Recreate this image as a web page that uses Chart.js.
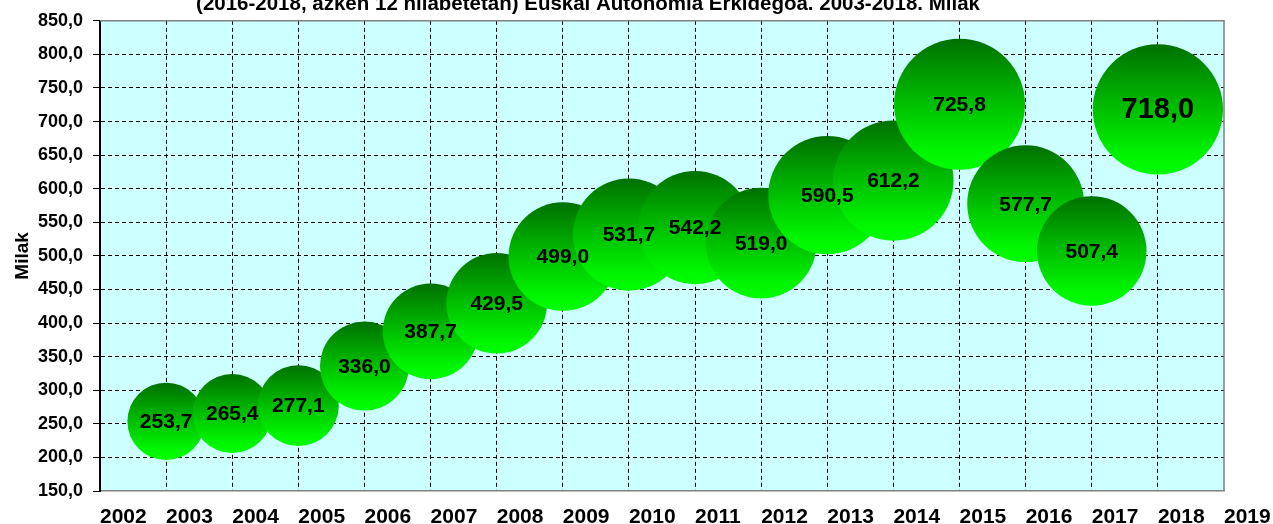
<!DOCTYPE html>
<html>
<head>
<meta charset="utf-8">
<script src="https://cdn.jsdelivr.net/npm/chart.js@4.4.0/dist/chart.umd.min.js"></script>
<style>
  html, body { margin: 0; padding: 0; background: #fff; }
  #wrap { width: 1273px; height: 524px; position: relative; overflow: hidden; }
</style>
</head>
<body>
<div id="wrap"><canvas id="chart" width="1273" height="524"></canvas></div>
<script>
// Data
const titleText = '(2016-2018, azken 12 hilabetetan) Euskal Autonomia Erkidegoa. 2003-2018. Milak';
const yAxisTitle = 'Milak';
const years = [2003, 2004, 2005, 2006, 2007, 2008, 2009, 2010, 2011, 2012, 2013, 2014, 2015, 2016, 2017, 2018];
const values = [253.7, 265.4, 277.1, 336.0, 387.7, 429.5, 499.0, 531.7, 542.2, 519.0, 590.5, 612.2, 725.8, 577.7, 507.4, 718.0];
const xRange = [2002, 2019];
const yRange = [150, 850];
const yStep = 50;

// bubble area follows the value (Excel style)
const bubbleScale = 2.43;
const radiusFor = v => bubbleScale * Math.sqrt(v);
const fmt = v => v.toFixed(1).replace('.', ',');

const points = years.map((yr, i) => ({ x: yr, y: values[i] }));

/**
 * Plot background, frame and the (cut off) title
 */
const framePlugin = {
    id: 'frame',
    beforeDraw(chart) {
        const { ctx, chartArea: a } = chart;
        ctx.save();
        ctx.fillStyle = '#ffffff';
        ctx.fillRect(0, 0, chart.width, chart.height);
        ctx.fillStyle = '#ccffff';
        ctx.fillRect(a.left, a.top, a.right - a.left, a.bottom - a.top);
        ctx.restore();
    },
    beforeDatasetsDraw(chart) {
        const { ctx, chartArea: a } = chart;
        ctx.save();
        ctx.strokeStyle = '#808080';
        ctx.lineWidth = 1.5;
        ctx.beginPath();
        ctx.moveTo(a.left, a.top);
        ctx.lineTo(a.right, a.top);
        ctx.lineTo(a.right, a.bottom);
        ctx.stroke();
        ctx.restore();
    },
    afterDraw(chart) {
        const { ctx } = chart;
        ctx.save();
        ctx.font = 'bold 20.5px "Liberation Sans", Arial, sans-serif';
        ctx.fillStyle = '#000';
        ctx.textAlign = 'center';
        ctx.textBaseline = 'alphabetic';
        ctx.fillText(titleText, 588, 10);
        ctx.restore();
    }
};

/**
 * Value labels drawn on top of all bubbles
 */
const labelPlugin = {
    id: 'bubbleLabels',
    afterDatasetsDraw(chart) {
        const { ctx } = chart;
        const meta = chart.getDatasetMeta(0);
        ctx.save();
        ctx.fillStyle = '#000';
        ctx.textAlign = 'center';
        ctx.textBaseline = 'middle';
        meta.data.forEach((el, i) => {
            const size = i === values.length - 1 ? 29 : 21;
            ctx.font = `bold ${size}px "Liberation Sans", Arial, sans-serif`;
            ctx.fillText(fmt(values[i]), el.x, el.y + 1);
        });
        ctx.restore();
    }
};

function bubbleFill(context) {
    const chart = context.chart;
    const raw = context.raw;
    const yScale = chart.scales && chart.scales.y;
    if (!raw || !yScale) return '#00c000';
    const cy = yScale.getPixelForValue(raw.y);
    const r = radiusFor(raw.y);
    if (!isFinite(cy) || !isFinite(r)) return '#00c000';
    const g = chart.ctx.createLinearGradient(0, cy - r, 0, cy + r);
    g.addColorStop(0, '#007000');
    g.addColorStop(0.45, '#00b800');
    g.addColorStop(0.85, '#00f400');
    g.addColorStop(1, '#00ff00');
    return g;
}

new Chart(document.getElementById('chart'), {
    type: 'bubble',
    data: {
        datasets: [{
            data: points,
            backgroundColor: bubbleFill,
            borderWidth: 0,
            radius: ctx => (ctx.raw ? radiusFor(ctx.raw.y) : 3),
            hoverRadius: 0
        }]
    },
    options: {
        responsive: false,
        animation: false,
        devicePixelRatio: 1,
        layout: { autoPadding: false, padding: { top: 20, right: 49, left: 0, bottom: 0 } },
        plugins: {
            legend: { display: false },
            tooltip: { enabled: false },
            title: { display: false }
        },
        scales: {
            x: {
                type: 'linear',
                min: xRange[0],
                max: xRange[1],
                afterFit: scale => {
                    scale.height = 33;
                    // let the layout padding decide the right edge
                    scale.paddingRight = 0;
                    scale.paddingLeft = 0;
                },
                ticks: {
                    stepSize: 1,
                    align: 'start',
                    padding: 14,
                    color: '#000',
                    font: { family: '"Liberation Sans", Arial, sans-serif', size: 21, weight: 'bold' },
                    callback: v => String(v)
                },
                grid: {
                    drawTicks: false,
                    color: ctx => (ctx.tick && (ctx.tick.value === xRange[0] || ctx.tick.value === xRange[1])) ? 'rgba(0,0,0,0)' : '#000',
                    lineWidth: 1
                },
                border: { display: true, color: '#808080', width: 1.5, dash: [4, 3] }
            },
            y: {
                type: 'linear',
                min: yRange[0],
                max: yRange[1],
                afterFit: scale => { scale.width = 100; },
                ticks: {
                    stepSize: yStep,
                    padding: 10,
                    color: '#000',
                    font: { family: '"Liberation Sans", Arial, sans-serif', size: 18, weight: 'bold' },
                    callback: v => fmt(v)
                },
                grid: {
                    drawTicks: true,
                    tickLength: 7,
                    tickColor: '#000',
                    tickWidth: 1,
                    color: ctx => (ctx.tick && (ctx.tick.value === yRange[0] || ctx.tick.value === yRange[1])) ? 'rgba(0,0,0,0)' : '#000',
                    lineWidth: 1
                },
                border: { display: true, color: '#000', width: 2, dash: [4, 3] },
                title: {
                    display: true,
                    text: yAxisTitle,
                    color: '#000',
                    padding: { top: 11, bottom: 0 },
                    font: { family: '"Liberation Sans", Arial, sans-serif', size: 19, weight: 'bold' }
                }
            }
        }
    },
    plugins: [framePlugin, labelPlugin]
});
</script>
</body>
</html>
